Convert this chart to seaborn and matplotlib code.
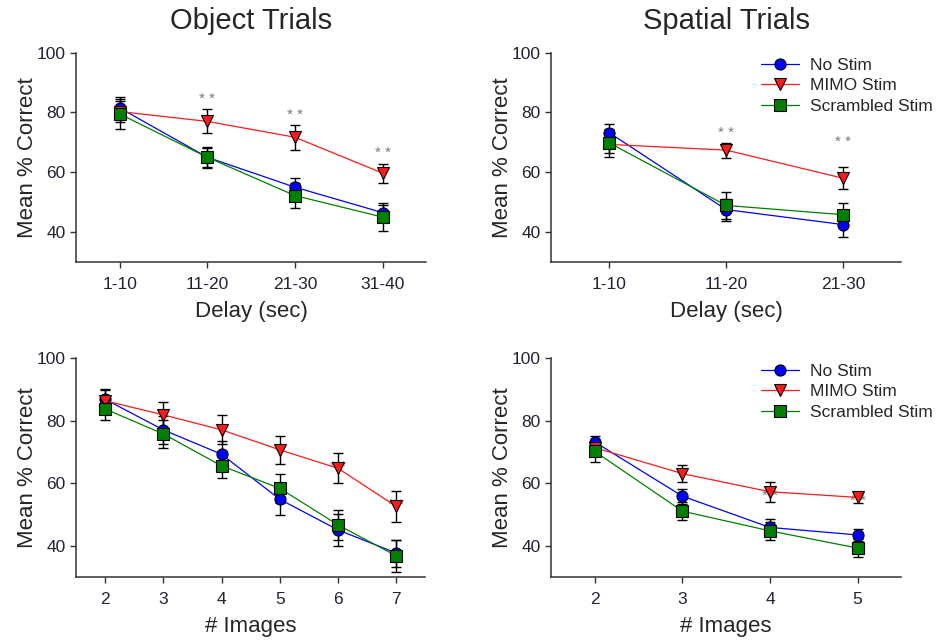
import numpy as np
import pandas as pd
import matplotlib
matplotlib.use("Agg")
import matplotlib.pyplot as plt
import seaborn as sns

groups = ["No Stim", "MIMO Stim", "Scrambled Stim"]

# object trials, by delay
delay_labels = ["1-10", "11-20", "21-30", "31-40"]
obj_delay_x = [1, 2, 3, 4]
obj_delay_mean = {"No Stim": [81.5, 65, 55, 46.5],
                  "MIMO Stim": [80.3, 77, 71.7, 59.7],
                  "Scrambled Stim": [79.5, 65, 52.2, 45]}
obj_delay_err = {"No Stim": [3.5, 3.2, 3, 2.5],
                 "MIMO Stim": [3.5, 4, 4.2, 3.2],
                 "Scrambled Stim": [5, 3.6, 4.3, 4.6]}
obj_delay_stars = [(2, 84.6), (3, 79), (4, 66.3)]

# spatial trials, by delay
spa_delay_x = [1, 2, 3]
spa_delay_mean = {"No Stim": [73.2, 47.5, 42.5],
                  "MIMO Stim": [69.3, 67.4, 58],
                  "Scrambled Stim": [69.8, 48.9, 45.8]}
spa_delay_err = {"No Stim": [3, 3.7, 4.2],
                 "MIMO Stim": [3, 2.5, 3.7],
                 "Scrambled Stim": [4.6, 4.4, 3.9]}
spa_delay_stars = [(2, 73.2), (3, 70.2)]

# object trials, by number of images
obj_img_x = [2, 3, 4, 5, 6, 7]
obj_img_mean = {"No Stim": [86.9, 77.1, 69.3, 54.9, 45.1, 37.7],
                "MIMO Stim": [86.4, 81.9, 77.1, 70.7, 64.8, 52.6],
                "Scrambled Stim": [83.8, 75.8, 65.6, 58.4, 46.7, 36.8]}
obj_img_err = {"No Stim": [3.2, 4.5, 4.3, 5, 5, 4.3],
               "MIMO Stim": [3.5, 4.2, 4.6, 4.5, 4.8, 5],
               "Scrambled Stim": [3.6, 4.6, 4, 4.6, 4.8, 5]}
obj_img_stars = [(6, 65.3), (7, 53.2)]

# spatial trials, by number of images
spa_img_x = [2, 3, 4, 5]
spa_img_mean = {"No Stim": [73.2, 55.9, 45.9, 43.5],
                "MIMO Stim": [71.4, 63.1, 57.3, 55.5],
                "Scrambled Stim": [70.2, 51.1, 44.8, 39.3]}
spa_img_err = {"No Stim": [2, 2.4, 2.7, 2],
               "MIMO Stim": [2, 2.7, 3.2, 1.8],
               "Scrambled Stim": [3.3, 2.8, 2.9, 2.9]}
spa_img_stars = [(4, 56), (5, 54.5)]

colors = {"No Stim": "#0000ff", "MIMO Stim": "#ff1a1a", "Scrambled Stim": "#008000"}
markers = {"No Stim": "o", "MIMO Stim": "v", "Scrambled Stim": "s"}

sns.set_style("ticks")
plt.rcParams["font.family"] = ["Liberation Sans", "DejaVu Sans"]

fig = plt.figure(figsize=(9.37, 6.42), dpi=100)
pos = [[0.081, 0.592, 0.374, 0.326], [0.588, 0.592, 0.374, 0.326],
       [0.081, 0.101, 0.373, 0.341], [0.588, 0.101, 0.374, 0.341]]
axes = [fig.add_axes(p) for p in pos]


def draw(ax, x, means, errs, stars):
    rows = []
    for g in groups:
        for xi, m in zip(x, means[g]):
            rows.append({"x": xi, "y": m, "group": g})
    df = pd.DataFrame(rows)
    sns.lineplot(data=df, x="x", y="y", hue="group", style="group",
                 hue_order=groups, style_order=groups, palette=colors,
                 markers=markers, dashes=False, estimator=None, sort=False,
                 linewidth=0.9, markersize=8, markeredgecolor="black",
                 markeredgewidth=0.8, legend=False, ax=ax, zorder=3)
    for g in groups:
        ax.errorbar(x, means[g], yerr=errs[g], fmt="none", ecolor="black",
                    elinewidth=1.0, capsize=3.5, capthick=1.0, zorder=2)
    for sx, sy in stars:
        ax.text(sx, sy, "* *", color="#7a7a7a", fontsize=11,
                ha="center", va="center", zorder=1)
    ax.set_ylim(30, 100)
    ax.set_yticks([40, 60, 80, 100])
    ax.set_ylabel("Mean % Correct", fontsize=16, labelpad=-1)
    ax.tick_params(labelsize=12.5, length=4, width=1, colors="#333333",
                   labelcolor="#222233")
    ax.tick_params(axis="x", pad=7)
    for s in ["left", "bottom"]:
        ax.spines[s].set_linewidth(1.1)
        ax.spines[s].set_color("#333333")
    sns.despine(ax=ax)


draw(axes[0], obj_delay_x, obj_delay_mean, obj_delay_err, obj_delay_stars)
draw(axes[1], spa_delay_x, spa_delay_mean, spa_delay_err, spa_delay_stars)
draw(axes[2], obj_img_x, obj_img_mean, obj_img_err, obj_img_stars)
draw(axes[3], spa_img_x, spa_img_mean, spa_img_err, spa_img_stars)

axes[0].set_xlim(0.5, 4.5)
axes[0].set_xticks(obj_delay_x)
axes[0].set_xticklabels(delay_labels)
axes[1].set_xlim(0.5, 3.5)
axes[1].set_xticks(spa_delay_x)
axes[1].set_xticklabels(delay_labels[:3])
axes[2].set_xlim(1.5, 7.5)
axes[2].set_xticks(obj_img_x)
axes[3].set_xlim(1.5, 5.5)
axes[3].set_xticks(spa_img_x)

for ax in axes[:2]:
    ax.set_xlabel("Delay (sec)", fontsize=16, labelpad=6)
for ax in axes[2:]:
    ax.set_xlabel("# Images", fontsize=16, labelpad=6)

axes[0].set_title("Object Trials", fontsize=21, pad=17)
axes[1].set_title("Spatial Trials", fontsize=21, pad=17)

for ax in (axes[1], axes[3]):
    ax.legend(handles=ax.lines[:3], labels=groups, loc="upper left",
              bbox_to_anchor=(0.6, 0.975), frameon=False, fontsize=12.5,
              handlelength=2.2, handletextpad=0.6, labelspacing=0.3,
              borderpad=0, borderaxespad=0)

fig.savefig("out.png", dpi=100)
